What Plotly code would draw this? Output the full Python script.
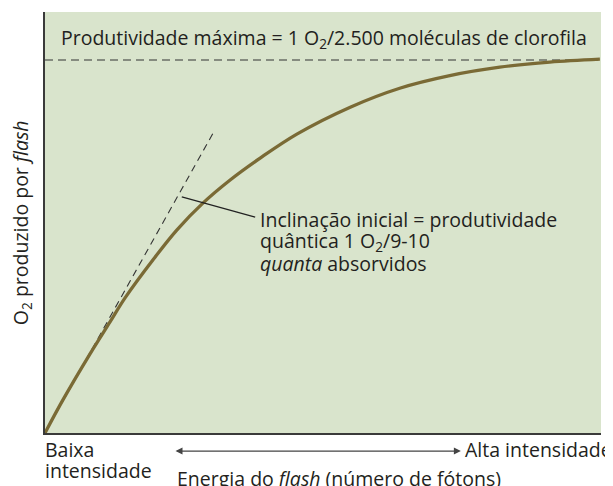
import plotly.graph_objects as go

# curve (x: flash energy, y: O2 per flash, both 0-100 scale)
curve_x = [0, 3.2, 8.1, 11.7, 14.4, 19.4, 23.7, 28.4, 33.3, 38.7, 45.3, 54.9, 63.8, 72.8, 81.8, 90.8, 99.8]
curve_y = [0, 7.8, 18.8, 26.4, 32.1, 41.1, 48.2, 54.6, 60.1, 65.3, 71.0, 77.4, 81.9, 84.9, 86.9, 88.1, 88.8]

# initial-slope tangent and maximum-yield line
tangent_x = [0, 30.6]
tangent_y = [0, 72.1]
max_x = [0, 99.5]
max_y = [88.6, 88.6]

# leader line to the slope note
leader_x = [24.6, 37.8]
leader_y = [56.1, 51.3]

note_lines = ["Inclinação inicial = produtividade",
              "quântica 1 O<sub>2</sub>/9-10",
              "<i>quanta</i> absorvidos"]
low_lines = ["Baixa", "intensidade"]

txt = "#231f20"
font = "Open Sans"
fs = 19.5

fig = go.Figure()
fig.add_trace(go.Scatter(x=max_x, y=max_y, mode="lines",
                         line=dict(color="#333333", width=1.2, dash="8px,5px"),
                         hoverinfo="skip"))
fig.add_trace(go.Scatter(x=tangent_x, y=tangent_y, mode="lines",
                         line=dict(color="#333333", width=1.1, dash="7px,5px"),
                         hoverinfo="skip"))
fig.add_trace(go.Scatter(x=curve_x, y=curve_y, mode="lines",
                         line=dict(color="#7a6a35", width=3.3, shape="spline", smoothing=1.0)))
fig.add_trace(go.Scatter(x=leader_x, y=leader_y, mode="lines",
                         line=dict(color="#222222", width=1.3), hoverinfo="skip"))

fig.add_annotation(x=50.2, y=93.6, xref="x", yref="y", showarrow=False,
                   xanchor="center", yanchor="middle",
                   text="Produtividade máxima = 1 O<sub>2</sub>/2.500 moléculas de clorofila",
                   font=dict(size=fs, color=txt))
for i, line in enumerate(note_lines):
    fig.add_annotation(x=38.3, y=50.6 - i * 5.2, xref="x", yref="y", showarrow=False,
                       xanchor="left", yanchor="middle", text=line,
                       font=dict(size=fs, color=txt))

# labels under the axis
dx, dy = "x domain", "y domain"
for i, line in enumerate(low_lines):
    fig.add_annotation(x=-0.004, y=-0.040 - i * 0.050, xref=dx, yref=dy, showarrow=False,
                       xanchor="left", yanchor="middle", text=line,
                       font=dict(size=fs, color=txt))
fig.add_annotation(x=0.752, y=-0.040, xref=dx, yref=dy, showarrow=False,
                   xanchor="left", yanchor="middle", text="Alta intensidade",
                   font=dict(size=fs, color=txt))
fig.add_annotation(x=0.234, y=-0.108, xref=dx, yref=dy, showarrow=False,
                   xanchor="left", yanchor="middle",
                   text="Energia do <i>flash</i> (número de fótons)",
                   font=dict(size=fs, color=txt))
fig.add_annotation(x=0.748, y=-0.043, ax=0.232, ay=-0.043,
                   xref=dx, yref=dy, axref=dx, ayref=dy,
                   text="", showarrow=True, arrowside="end+start",
                   arrowhead=2, arrowsize=1, arrowwidth=1.4, arrowcolor="#444444")
fig.add_annotation(x=-0.042, y=0.5, xref=dx, yref=dy, showarrow=False,
                   xanchor="center", yanchor="middle",
                   textangle=-90, text="O<sub>2</sub> produzido por <i>flash</i>",
                   font=dict(size=fs, color=txt))

fig.update_xaxes(range=[0, 100], showgrid=False, zeroline=False, showticklabels=False,
                 ticks="", showline=True, linecolor="#3a3a3a", linewidth=1.5)
fig.update_yaxes(range=[0, 100], showgrid=False, zeroline=False, showticklabels=False,
                 ticks="", showline=True, linecolor="#3a3a3a", linewidth=1.5)

# the page body adds an 8px offset, so the figure is drawn 8px smaller
fig.update_layout(
    width=605, height=478,
    margin=dict(l=37, r=12, t=4, b=53),
    plot_bgcolor="#d9e4cc",
    paper_bgcolor="white",
    showlegend=False,
    font=dict(family=font, color=txt),
)

fig.write_html("out.html", config={"displayModeBar": False})
